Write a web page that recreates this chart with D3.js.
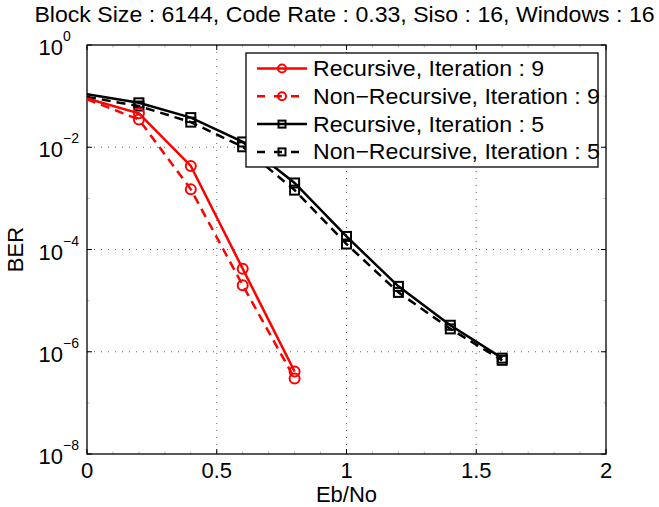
<!DOCTYPE html>
<html>
<head>
<meta charset="utf-8">
<script src="https://cdn.jsdelivr.net/npm/d3@7"></script>
<style>
  body { margin: 0; background: #fff; }
  text { font-family: "Liberation Sans", Arial, sans-serif; }
</style>
</head>
<body>
<div id="chart"></div>
<script>
const ebNo = [0, 0.2, 0.4, 0.6, 0.8, 1.0, 1.2, 1.4, 1.6];
const recIter9 = [0.090, 0.046, 0.0043, 4.2e-5, 4.1e-7];
const nonRecIter9 = [0.087, 0.035, 0.0015, 2.0e-5, 3.0e-7];
const recIter5 = [0.109, 0.074, 0.038, 0.0127, 0.0020, 1.8e-4, 1.9e-5, 3.3e-6, 7.5e-7];
const nonRecIter5 = [0.096, 0.064, 0.031, 0.0102, 0.00145, 1.28e-4, 1.45e-5, 2.8e-6, 6.8e-7];
const xTicks = [0, 0.5, 1, 1.5, 2];
const yTickExp = [0, -2, -4, -6, -8];
const titleText = "Block Size : 6144, Code Rate : 0.33, Siso : 16, Windows : 16";

const series = [
  { label: "Recursive, Iteration : 9", values: recIter9, color: "#ff0000", dash: null, marker: "circle" },
  { label: "Non\u2212Recursive, Iteration : 9", values: nonRecIter9, color: "#ff0000", dash: "9,6", marker: "circle" },
  { label: "Recursive, Iteration : 5", values: recIter5, color: "#000000", dash: null, marker: "square" },
  { label: "Non\u2212Recursive, Iteration : 5", values: nonRecIter5, color: "#000000", dash: "9,6", marker: "square" },
];

const W = 659, H = 507;
const margin = { top: 45, right: 53, bottom: 53, left: 87 };
const width = W - margin.left - margin.right;
const height = H - margin.top - margin.bottom;
const fontSize = "22px";

// helvetica in the original runs a little wider than liberation
const stretch = (sel, k = 1.05) => {
  sel.each(function () {
    const len = this.getComputedTextLength();
    d3.select(this).attr("textLength", len * k).attr("lengthAdjust", "spacingAndGlyphs");
  });
  return sel;
};

const root = d3.select("#chart").append("svg")
  .attr("width", W).attr("height", H);

stretch(root.append("text")
  .attr("x", margin.left + width / 2 - 2).attr("y", 22)
  .attr("text-anchor", "middle")
  .style("font-size", fontSize)
  .text(titleText));

const svg = root.append("g").attr("transform", `translate(${margin.left},${margin.top})`);

const x = d3.scaleLinear().domain([0, 2]).range([0, width]);
const y = d3.scaleLog().domain([1e-8, 1]).range([height, 0]);

// grid
const gridColor = "#666";
svg.selectAll(".vgrid").data(xTicks.slice(1, -1)).join("line")
  .attr("x1", d => x(d)).attr("x2", d => x(d))
  .attr("y1", 0).attr("y2", height)
  .attr("stroke", gridColor).attr("stroke-width", 1).attr("stroke-dasharray", "1,6");
svg.selectAll(".hgrid").data(yTickExp.slice(1, -1)).join("line")
  .attr("x1", 0).attr("x2", width)
  .attr("y1", d => y(Math.pow(10, d))).attr("y2", d => y(Math.pow(10, d)))
  .attr("stroke", gridColor).attr("stroke-width", 1).attr("stroke-dasharray", "1,6");

// minor ticks
const minorX = d3.range(0, 2.001, 0.1);
const minorY = [];
for (let e = -8; e < 0; e++) minorY.push(Math.pow(10, e));
const tickG = svg.append("g").attr("stroke", "#999").attr("stroke-width", 0.7);
minorX.forEach(v => {
  tickG.append("line").attr("x1", x(v)).attr("x2", x(v)).attr("y1", height).attr("y2", height - 2.5);
  tickG.append("line").attr("x1", x(v)).attr("x2", x(v)).attr("y1", 0).attr("y2", 2.5);
});
minorY.forEach(v => {
  tickG.append("line").attr("x1", 0).attr("x2", 2.5).attr("y1", y(v)).attr("y2", y(v));
  tickG.append("line").attr("x1", width).attr("x2", width - 2.5).attr("y1", y(v)).attr("y2", y(v));
});

// major ticks
const majG = svg.append("g").attr("stroke", "#000").attr("stroke-width", 1);
xTicks.forEach(v => {
  majG.append("line").attr("x1", x(v)).attr("x2", x(v)).attr("y1", height).attr("y2", height - 5);
  majG.append("line").attr("x1", x(v)).attr("x2", x(v)).attr("y1", 0).attr("y2", 5);
});
yTickExp.forEach(e => {
  const yy = y(Math.pow(10, e));
  majG.append("line").attr("x1", 0).attr("x2", 5).attr("y1", yy).attr("y2", yy);
  majG.append("line").attr("x1", width).attr("x2", width - 5).attr("y1", yy).attr("y2", yy);
});

// frame
svg.append("rect").attr("x", 0).attr("y", 0).attr("width", width).attr("height", height)
  .attr("fill", "none").attr("stroke", "#000").attr("stroke-width", 1.3);

// tick labels
svg.selectAll(".xl").data(xTicks).join("text")
  .attr("x", d => x(d)).attr("y", height + 24)
  .attr("text-anchor", "middle").style("font-size", fontSize)
  .text(d => d3.format("")(d));

yTickExp.forEach(e => {
  svg.append("text")
    .attr("x", -24).attr("y", y(Math.pow(10, e)) + 10)
    .attr("text-anchor", "end").style("font-size", fontSize).text("10");
  svg.append("text")
    .attr("x", -24).attr("y", y(Math.pow(10, e)) - 4)
    .attr("text-anchor", "start").style("font-size", "14px")
    .text(e === 0 ? "0" : "\u2212" + Math.abs(e));
});

// axis labels
svg.append("text").attr("x", width / 2).attr("y", height + 48)
  .attr("text-anchor", "middle").style("font-size", fontSize).text("Eb/No");
svg.append("text")
  .attr("transform", `translate(${-64},${height / 2}) rotate(-90)`)
  .attr("text-anchor", "middle").style("font-size", fontSize).text("BER");

// series
const line = d3.line().x(d => x(d[0])).y(d => y(d[1]));
const drawMarker = (g, type, cx, cy, size, color, sw) => {
  if (type === "circle") {
    g.append("circle").attr("cx", cx).attr("cy", cy).attr("r", size)
      .attr("fill", "none").attr("stroke", color).attr("stroke-width", sw);
  } else {
    g.append("rect").attr("x", cx - size).attr("y", cy - size)
      .attr("width", size * 2).attr("height", size * 2)
      .attr("fill", "none").attr("stroke", color).attr("stroke-width", sw);
  }
};

const plotG = svg.append("g");
series.slice().reverse().forEach(s => {
  const pts = s.values.map((v, i) => [ebNo[i], v]);
  plotG.append("path").datum(pts)
    .attr("fill", "none").attr("stroke", s.color).attr("stroke-width", 2.5)
    .attr("stroke-dasharray", s.dash)
    .attr("d", line);
  pts.forEach((p, i) => {
    if (i === 0) return;
    drawMarker(plotG, s.marker, x(p[0]), y(p[1]), s.marker === "circle" ? 5 : 4.5, s.color, 2);
  });
});

// legend
const lg = root.append("g").attr("transform", "translate(246,53)");
lg.append("rect").attr("x", 0).attr("y", 0).attr("width", 352).attr("height", 114)
  .attr("fill", "#fff").attr("stroke", "#000").attr("stroke-width", 1.3);
series.forEach((s, i) => {
  const cy = 15.5 + i * 27.8;
  lg.append("line").attr("x1", 11).attr("x2", 61).attr("y1", cy).attr("y2", cy)
    .attr("stroke", s.color).attr("stroke-width", 2.5)
    .attr("stroke-dasharray", s.dash ? "8,9" : null);
  drawMarker(lg, s.marker, 36, cy, s.marker === "circle" ? 4 : 3.5, s.color, 2);
  stretch(lg.append("text").attr("x", 67).attr("y", cy + 7.5)
    .style("font-size", fontSize).text(s.label));
});
</script>
</body>
</html>
